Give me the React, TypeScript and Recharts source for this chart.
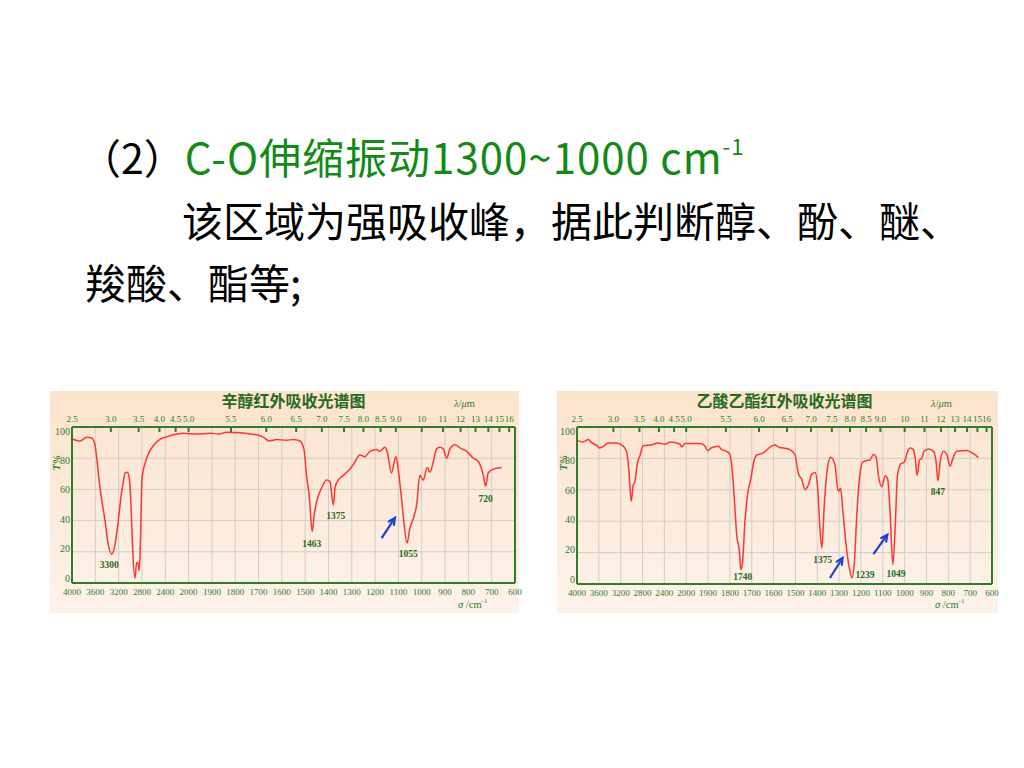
import React from 'react';
import {
    LineChart,
    Line,
    XAxis,
    YAxis,
    CartesianGrid,
    ReferenceDot,
    ReferenceLine,
} from 'recharts';

// bottom axis: wavenumber, 4000-2000 compressed (400/div), then 100/div
const WN_TICKS = [4000, 3600, 3200, 2800, 2400, 2000, 1900, 1800, 1700, 1600, 1500, 1400, 1300, 1200, 1100, 1000, 900, 800, 700, 600];
// top axis: wavelength in µm
const UM_TICKS = [2.5, 3.0, 3.5, 4.0, 4.5, 5.0, 5.5, 6.0, 6.5, 7.0, 7.5, 8.0, 8.5, 9.0, 10, 11, 12, 13, 14, 15, 16];
const T_TICKS = [0, 20, 40, 60, 80, 100];

// 辛醇 (octanol)
const octanolWn = [4000, 3863, 3748, 3662, 3606, 3576, 3520, 3434, 3377, 3320, 3262, 3206, 3150, 3127, 3090, 3051, 3017, 2988, 2960, 2920, 2891, 2868, 2845, 2823, 2799, 2719, 2605, 2491, 2348, 2263, 2091, 1965, 1908, 1870, 1837, 1708, 1680, 1654, 1622, 1580, 1551, 1522, 1505, 1494, 1482, 1470, 1461, 1451, 1429, 1408, 1394, 1379, 1372, 1358, 1336, 1315, 1293, 1265, 1244, 1222, 1194, 1180, 1158, 1148, 1130, 1111, 1101, 1087, 1077, 1063, 1051, 1037, 1022, 1008, 994, 976, 965, 950, 936, 922, 908, 893, 879, 858, 829, 808, 779, 758, 736, 726, 715, 693, 657];
const octanolT = [92.5, 91, 93.5, 93, 88.7, 80, 61, 40, 24.6, 18.5, 24.6, 40, 58, 63, 70.5, 71, 67, 50, 22, 3, 13, 13, 8, 31, 67, 80, 88, 92, 94, 95, 96, 95.5, 96, 95.5, 96.6, 95, 93.5, 91, 92, 91.5, 92, 91, 85.5, 69, 55, 33, 44, 52, 61, 66, 65, 50, 61, 66, 69, 72, 76, 82, 81, 84.4, 85.5, 84.4, 87, 84, 70.5, 81, 73, 54.5, 39.5, 25.6, 35, 41, 50, 69, 66, 74, 71, 78, 86, 87, 86, 80, 86, 88.7, 86, 84.6, 80, 78, 69, 62, 70.5, 73, 74];
const octanolPeaks = [
    { wn: 3360, t: 11.7, text: '3300' },
    { wn: 1472, t: 25.6, text: '1463' },
    { wn: 1369, t: 43.4, text: '1375' },
    { wn: 1058, t: 18.8, text: '1055' },
    { wn: 726, t: 54, text: '720' },
];
const octanolArrows = [{ from: [1172, 28.8], to: [1115, 41.7] }];

// 乙酸乙酯 (ethyl acetate)
const acetateWn = [4000, 3884, 3793, 3732, 3640, 3592, 3519, 3427, 3274, 3153, 3092, 3049, 3007, 2971, 2941, 2892, 2849, 2788, 2635, 2513, 2390, 2296, 2112, 2083, 2020, 1960, 1929, 1914, 1901, 1886, 1853, 1838, 1815, 1800, 1789, 1777, 1769, 1757, 1750, 1742, 1731, 1719, 1704, 1689, 1678, 1655, 1639, 1624, 1594, 1575, 1555, 1525, 1502, 1487, 1471, 1456, 1441, 1425, 1410, 1398, 1388, 1379, 1368, 1354, 1339, 1319, 1304, 1293, 1284, 1268, 1253, 1241, 1230, 1219, 1207, 1192, 1173, 1158, 1143, 1130, 1120, 1104, 1089, 1078, 1066, 1054, 1043, 1033, 1017, 1002, 990, 975, 960, 952, 943, 932, 922, 911, 891, 868, 856, 848, 837, 822, 807, 792, 779, 761, 715, 685, 662];
const acetateT = [91.5, 90.5, 92, 90, 88.3, 86.6, 87.7, 89.8, 89.8, 87.7, 84.5, 71.8, 52.7, 63, 65, 77.4, 81.6, 88, 88.6, 89.8, 89, 90.5, 89, 87.3, 89.5, 89.5, 89.3, 87.7, 85, 86.6, 87.7, 85.6, 84.5, 82.5, 71.8, 48.4, 31.4, 21.6, 9.1, 14, 40, 57, 67, 79, 82, 83, 84.3, 86.3, 88.5, 87, 86.6, 85.6, 82.5, 70.7, 66.5, 60, 63, 70, 71, 61, 35.7, 23, 50, 73, 80.7, 76, 59, 61, 48.4, 25, 10, 3.8, 14, 44, 67, 77.6, 78.6, 79, 82.5, 80.7, 69, 62, 69, 67, 44, 12.3, 37, 69, 76.6, 77.6, 83, 86.6, 85.6, 80.3, 69.2, 79, 80, 84.5, 86, 84.5, 78, 65.8, 78, 84.5, 82.5, 75, 80, 84.5, 85, 83, 80.5];
const acetatePeaks = [
    { wn: 1741, t: 4.9, text: '1740' },
    { wn: 1375, t: 15.5, text: '1375' },
    { wn: 1181, t: 5.9, text: '1239' },
    { wn: 1039, t: 7, text: '1049' },
    { wn: 848, t: 58.6, text: '847' },
];
const acetateArrows = [
    { from: [1342, 3.8], to: [1284, 16.6] },
    { from: [1143, 19], to: [1079, 31.4] },
];

const GREEN = '#2f7d2a';
const SERIF = '"Liberation Serif", "DejaVu Serif", serif';
const CJK = '"Noto Sans CJK SC", sans-serif';
const EXTRA = 12; // room for the last tick label past the box

const wnToPos = (wn: number) => (wn >= 2000 ? (4000 - wn) / 400 : 5 + (2000 - wn) / 100);
const posToWn = (p: number) => (p <= 5 ? 4000 - p * 400 : 2000 - (p - 5) * 100);

const umPos = UM_TICKS.map((um) => wnToPos(10000 / um));
const umLabel = (p: number) => {
    const i = umPos.findIndex((v) => Math.abs(v - p) < 1e-6);
    const um = UM_TICKS[i];
    return um >= 10 ? String(um) : um.toFixed(1);
};

const arrowShape = (props: any) => {
    const { x1, y1, x2, y2 } = props;
    const a = Math.atan2(y2 - y1, x2 - x1);
    const L = 7;
    const p1 = [x2 - L * Math.cos(a - 0.45), y2 - L * Math.sin(a - 0.45)];
    const p2 = [x2 - L * Math.cos(a + 0.45), y2 - L * Math.sin(a + 0.45)];
    return (
        <g>
            <line x1={x1} y1={y1} x2={x2 - 3 * Math.cos(a)} y2={y2 - 3 * Math.sin(a)} stroke="#1d3fcf" strokeWidth={2.2} />
            <polyline
                points={`${p1[0]},${p1[1]} ${x2},${y2} ${p2[0]},${p2[1]}`}
                fill="none"
                stroke="#1d3fcf"
                strokeWidth={2.2}
                strokeLinecap="round"
            />
        </g>
    );
};

interface SpectrumProps {
    title: string;
    wn: number[];
    t: number[];
    peaks: { wn: number; t: number; text: string }[];
    arrows: { from: number[]; to: number[] }[];
    left: number;
    top: number;
    width: number;
    height: number;
    yWidth: number;
    rWidth: number;
    topH: number;
    bottomH: number;
}

function Spectrum(p: SpectrumProps) {
    const data = p.wn.map((w, i) => ({ x: wnToPos(w), t: p.t[i] }));
    const plotRight = p.width - p.rWidth;
    return (
        <div
            style={{
                position: 'absolute',
                left: p.left,
                top: p.top,
                width: p.width,
                height: p.height,
                background: 'linear-gradient(#fce3cd, #fdf2ea)',
            }}
        >
            <div
                style={{
                    position: 'absolute',
                    left: p.yWidth,
                    width: plotRight - p.yWidth,
                    top: -1,
                    textAlign: 'center',
                    fontFamily: CJK,
                    fontWeight: 700,
                    fontSize: 16,
                    lineHeight: '20px',
                    color: '#246b1c',
                }}
            >
                {p.title}
            </div>
            <div
                style={{
                    position: 'absolute',
                    left: plotRight - 61,
                    top: 7,
                    fontFamily: SERIF,
                    fontSize: 10.5,
                    color: GREEN,
                }}
            >
                <i>λ</i>/<i>μ</i>m
            </div>
            <div
                style={{
                    position: 'absolute',
                    left: plotRight - 57,
                    top: 206,
                    fontFamily: SERIF,
                    fontSize: 10.5,
                    color: GREEN,
                }}
            >
                <i>σ</i> /cm<sup style={{ fontSize: 7 }}>-1</sup>
            </div>
            <div
                style={{
                    position: 'absolute',
                    left: -1,
                    top: 67,
                    width: 14,
                    transform: 'rotate(-90deg)',
                    fontFamily: SERIF,
                    fontStyle: 'italic',
                    fontWeight: 700,
                    fontSize: 10.5,
                    color: GREEN,
                }}
            >
                T%
            </div>
            <LineChart
                width={p.width + EXTRA}
                height={p.height}
                data={data}
                margin={{ top: 0, right: EXTRA, bottom: 0, left: 0 }}
                style={{ position: 'absolute', left: 0, top: 0 }}
            >
                <CartesianGrid stroke="#d2cdc8" strokeWidth={1} />
                <XAxis
                    dataKey="x"
                    type="number"
                    domain={[0, 19]}
                    ticks={WN_TICKS.map(wnToPos)}
                    tickFormatter={(v: number) => String(Math.round(posToWn(v)))}
                    height={p.bottomH}
                    tickSize={0}
                    tickMargin={6}
                    interval={0}
                    axisLine={{ stroke: GREEN, strokeWidth: 2 }}
                    tick={{ fill: GREEN, fontSize: 9, fontFamily: SERIF }}
                />
                <XAxis
                    xAxisId="top"
                    orientation="top"
                    dataKey="x"
                    type="number"
                    domain={[0, 19]}
                    ticks={umPos}
                    height={p.topH}
                    tickSize={0}
                    tickMargin={3}
                    interval={0}
                    axisLine={{ stroke: GREEN, strokeWidth: 2 }}
                    tick={(tp: any) => (
                        <g>
                            <text
                                x={tp.x}
                                y={tp.y - 2}
                                textAnchor="middle"
                                fill={GREEN}
                                fontSize={9}
                                fontFamily={SERIF}
                            >
                                {umLabel(tp.payload.value)}
                            </text>
                            <line x1={tp.x} x2={tp.x} y1={tp.y + 3} y2={tp.y + 8} stroke={GREEN} strokeWidth={2} />
                        </g>
                    )}
                />
                <YAxis
                    type="number"
                    domain={[0, 100]}
                    ticks={T_TICKS}
                    width={p.yWidth}
                    tickSize={0}
                    tickMargin={2}
                    interval={0}
                    axisLine={{ stroke: GREEN, strokeWidth: 2 }}
                    tick={(tp: any) => (
                        <text
                            x={tp.x}
                            y={tp.y - 5 + tp.payload.value * 0.09}
                            dy="0.35em"
                            textAnchor="end"
                            fill={GREEN}
                            fontSize={10}
                            fontFamily={SERIF}
                        >
                            {tp.payload.value}
                        </text>
                    )}
                />
                <YAxis
                    yAxisId="right"
                    orientation="right"
                    type="number"
                    domain={[0, 100]}
                    width={p.rWidth}
                    tick={false}
                    tickLine={false}
                    axisLine={{ stroke: GREEN, strokeWidth: 2 }}
                />
                <Line
                    type="monotone"
                    dataKey="t"
                    stroke="#ff3434"
                    strokeWidth={1.5}
                    dot={false}
                    isAnimationActive={false}
                />
                {p.peaks.map((pk) => (
                    <ReferenceDot
                        key={pk.text + pk.wn}
                        x={wnToPos(pk.wn)}
                        y={pk.t}
                        r={1}
                        shape={(sp: any) => (
                            <text
                                x={sp.cx}
                                y={sp.cy + 3.5}
                                textAnchor="middle"
                                fill="#266b20"
                                fontSize={9.5}
                                fontWeight={700}
                                fontFamily={SERIF}
                            >
                                {pk.text}
                            </text>
                        )}
                    />
                ))}
                {p.arrows.map((a, i) => (
                    <ReferenceLine
                        key={i}
                        segment={[
                            { x: wnToPos(a.from[0]), y: a.from[1] },
                            { x: wnToPos(a.to[0]), y: a.to[1] },
                        ]}
                        shape={arrowShape}
                    />
                ))}
            </LineChart>
        </div>
    );
}

export default function App() {
    const line: React.CSSProperties = {
        position: 'absolute',
        fontFamily: CJK,
        fontSize: 41,
        lineHeight: '41px',
        whiteSpace: 'nowrap',
        color: '#000',
    };
    return (
        <div style={{ position: 'absolute', left: 0, top: 0, width: 1024, height: 768, background: '#fff' }}>
            <div style={{ ...line, left: 80, top: 135 }}>
                （2）
                <span style={{ color: '#138a17', fontSize: 42, letterSpacing: 1 }}>
                    C-O伸缩振动1300~1000 cm
                    <sup style={{ fontSize: 22, verticalAlign: 'top', lineHeight: '22px', position: 'relative', top: -1 }}>-1</sup>
                </span>
            </div>
            <div style={{ ...line, left: 182, top: 199 }}>该区域为强吸收峰，据此判断醇、酚、醚、</div>
            <div style={{ ...line, left: 85, top: 261 }}>羧酸、酯等;</div>

            <Spectrum
                title="辛醇红外吸收光谱图"
                wn={octanolWn}
                t={octanolT}
                peaks={octanolPeaks}
                arrows={octanolArrows}
                left={50}
                top={391}
                width={469}
                height={222}
                yWidth={22}
                rWidth={4}
                topH={36}
                bottomH={30}
            />
            <Spectrum
                title="乙酸乙酯红外吸收光谱图"
                wn={acetateWn}
                t={acetateT}
                peaks={acetatePeaks}
                arrows={acetateArrows}
                left={557}
                top={391}
                width={441}
                height={222}
                yWidth={20}
                rWidth={6}
                topH={36}
                bottomH={29}
            />
        </div>
    );
}
